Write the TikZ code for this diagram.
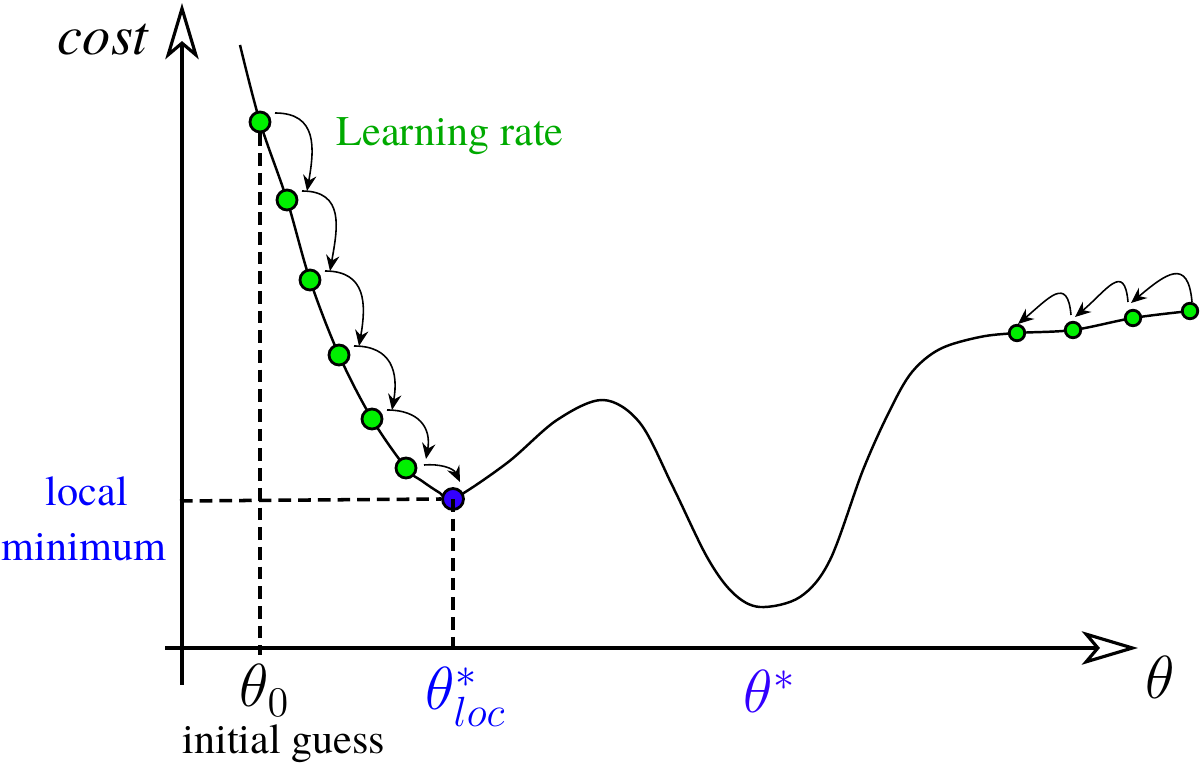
\documentclass[tikz,border=0pt]{standalone}
\usepackage{amsmath}
\usepackage{fontspec}
\setmainfont{TeX Gyre Termes}
\usetikzlibrary{arrows.meta,calc}

\definecolor{stepgreen}{RGB}{0,240,0}
\definecolor{rategreen}{RGB}{0,170,0}
\definecolor{locblue}{RGB}{0,0,255}
\definecolor{optblue}{RGB}{51,0,255}

\begin{document}
\begin{tikzpicture}[x=0.01cm, y=0.01cm,
    axis/.style={line width=0.9pt, -{Stealth[open, length=16pt, width=9.5pt, inset=4pt]}},
    guide/.style={line width=1pt, dash pattern=on 3.6pt off 2pt},
    dot/.style={circle, draw, line width=0.8pt, fill=stepgreen, inner sep=0pt, minimum size=0.2cm},
    smalldot/.style={dot, minimum size=0.155cm},
    jump/.style={line width=0.45pt, -{Stealth[length=4.5pt, width=3.8pt, inset=1.5pt]}},
    lbl/.style={font=\fontsize{12}{14}\selectfont},
    sym/.style={font=\fontsize{16.5}{19}\selectfont},
    ]
        \useasboundingbox (0,0) rectangle (1200,767);

        % axes
        \coordinate (ybot) at (182,82);
        \coordinate (ytop) at (182,764);
        \coordinate (xleft) at (165,119);
        \coordinate (xright) at (1138,119);
        \draw[axis] (ybot) -- (ytop);
        \draw[axis] (xleft) -- (xright);

        % cost curve
        \draw[line width=0.7pt] plot[smooth, tension=0.55] coordinates {
            (240,722) (260,645) (287,567) (310,487) (339,412) (372,348) (406,299)
            (422,286) (440,274) (453,268) (507,304) (557,347) (603,367) (640,344)
            (673,280) (707,210) (733,174) (760,160) (800,170) (830,207) (863,297)
            (890,357) (912,395) (940,418) (980,430) (1017,434) (1073,437) (1133,449) (1190,456)};

        \node[dot] (g1) at (260,645) {};
        \node[dot] (g2) at (287,567) {};
        \node[dot] (g3) at (310,487) {};
        \node[dot] (g4) at (339,412) {};
        \node[dot] (g5) at (372,348) {};
        \node[dot] (g6) at (406,299) {};
        \node[dot, fill=optblue, minimum size=0.21cm] (loc) at (453,268) {};

        \node[smalldot] (r1) at (1017,434) {};
        \node[smalldot] (r2) at (1073,437) {};
        \node[smalldot] (r3) at (1133,449) {};
        \node[smalldot] (r4) at (1190,456) {};

        % dashed guides
        \coordinate (g1foot) at (260,112);
        \coordinate (lmark) at (180,266);
        \draw[guide] (g1.south) -- (g1foot);
        \draw[guide] (lmark) -- (loc.west);
        \draw[guide] (loc.center) -- (loc |- xleft);

        % steps
        \foreach \a/\b in {g1/g2, g2/g3, g3/g4, g4/g5, g5/g6}
            \draw[jump] ($(\a)+(15,9)$) to[out=0, in=80, looseness=1.3] ($(\b)+(20,9)$);
        \draw[jump] ($(g6)+(18,3)$) to[out=5, in=115] ($(loc)+(7,17)$);

        \draw[jump] ($(r4)+(2,9)$) to[out=95, in=40, looseness=1.9] ($(r3)+(-2,15)$);
        \draw[jump] ($(r3)+(-5,16)$) to[out=95, in=40, looseness=1.9] ($(r2)+(2,13)$);
        \draw[jump] ($(r2)+(-2,15)$) to[out=95, in=40, looseness=1.9] ($(r1)+(1,9)$);

        % labels
        \node[font=\fontsize{16}{18}\selectfont\itshape, anchor=base] (cost) at (103,712) {cost};
        \node[lbl, text=rategreen, anchor=base] (rate) at (450,621) {Learning rate};
        \node[lbl, text=locblue, anchor=base] (lbllocal) at (87,261) {local};
        \node[lbl, text=locblue, anchor=base] (lblminimum) at (84,206) {minimum};
        \node[sym, anchor=base] (t0) at (265,60) {$\theta_0$};
        \node[lbl, anchor=base] (guess) at (284,13) {initial guess};
        \node[sym, text=locblue, anchor=base] (tloc) at (466,57) {$\theta^*_{loc}$};
        \node[sym, text=optblue, anchor=base, font=\fontsize{18}{20}\selectfont] (topt) at (770,54) {$\theta^*$};
        \node[sym, anchor=base, font=\fontsize{18}{20}\selectfont] (theta) at (1160,68) {$\theta$};
    \end{tikzpicture}
\end{document}
